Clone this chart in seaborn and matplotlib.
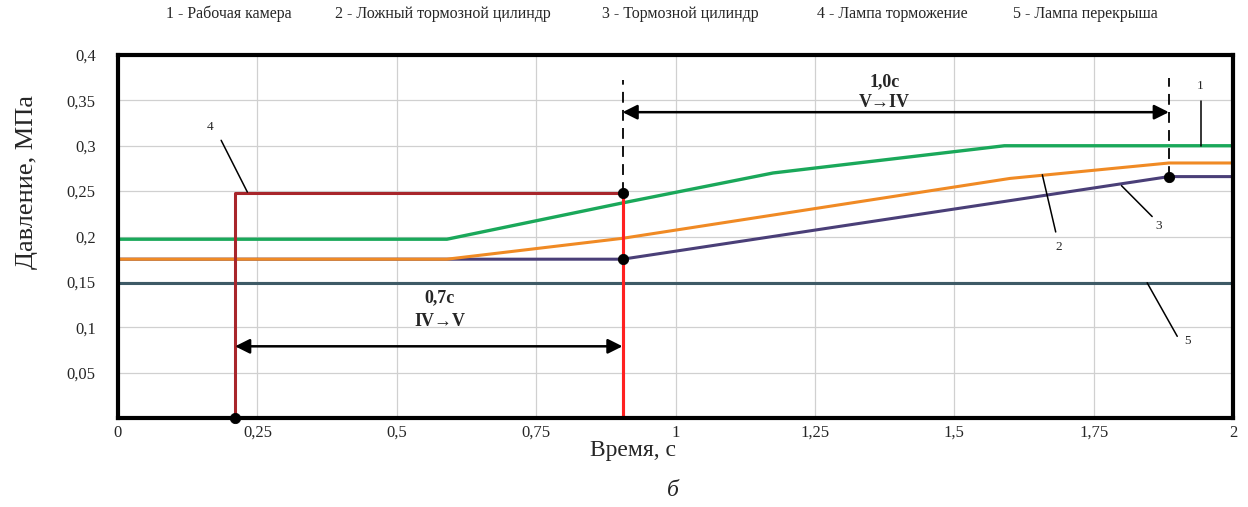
import numpy as np
import pandas as pd
import matplotlib
matplotlib.use("Agg")
import matplotlib.pyplot as plt
import seaborn as sns

# ---- data ----
t_work = [0.0, 0.59, 0.905, 1.175, 1.59, 2.0]
p_work = [0.197, 0.197, 0.237, 0.270, 0.300, 0.300]

t_false = [0.0, 0.59, 0.905, 1.6, 1.885, 2.0]
p_false = [0.175, 0.175, 0.198, 0.264, 0.281, 0.281]

t_brake = [0.0, 0.905, 1.885, 2.0]
p_brake = [0.175, 0.175, 0.266, 0.266]

t_lamp_brake = [0.21, 0.21, 0.905, 0.905]
p_lamp_brake = [0.0, 0.248, 0.248, 0.0]

t_lamp_lap = [0.0, 2.0]
p_lamp_lap = [0.149, 0.149]

dot_t = [0.21, 0.905, 0.905, 1.885]
dot_p = [0.0, 0.248, 0.175, 0.266]

x_ticks = [0, 0.25, 0.5, 0.75, 1, 1.25, 1.5, 1.75, 2]
x_ticklabels = ["0", "0,25", "0,5", "0,75", "1", "1,25", "1,5", "1,75", "2"]
y_ticks = [0, 0.05, 0.1, 0.15, 0.2, 0.25, 0.3, 0.35, 0.4]
y_ticklabels = ["", "0,05", "0,1", "0,15", "0,2", "0,25", "0,3", "0,35", "0,4"]

legend_items = ["1 - Рабочая камера", "2 - Ложный тормозной цилиндр",
                "3 - Тормозной цилиндр", "4 - Лампа торможение", "5 - Лампа перекрыша"]
legend_x_px = [166, 335, 602, 817, 1013]

# ---- style ----
sns.set_style("white")
plt.rcParams['font.family'] = ['Liberation Serif', 'DejaVu Serif']

W, H = 1248, 507
fig = plt.figure(figsize=(W / 100, H / 100), dpi=100)
L, R, T, B = 118, 1233, 55, 418
ax = fig.add_axes([L / W, 1 - B / H, (R - L) / W, (B - T) / H])

c_green = "#1aa85a"
c_orange = "#f08a24"
c_purple = "#4a3f78"
c_lap = "#3e5a66"
c_red_dark = "#a8262b"
c_red = "#ff2020"

kw = dict(ax=ax, sort=False, estimator=None, legend=False)
sns.lineplot(x=t_lamp_lap, y=p_lamp_lap, color=c_lap, lw=2.2, **kw)
sns.lineplot(x=t_brake, y=p_brake, color=c_purple, lw=2.2, **kw)
sns.lineplot(x=t_false, y=p_false, color=c_orange, lw=2.2, **kw)
sns.lineplot(x=t_work, y=p_work, color=c_green, lw=2.4, **kw)
sns.lineplot(x=t_lamp_brake, y=p_lamp_brake, color=c_red_dark, lw=2.2, **kw)
sns.lineplot(x=t_lamp_brake[2:], y=p_lamp_brake[2:], color=c_red, lw=2.2, **kw)

# dashed verticals
ax.plot([dot_t[1], dot_t[1]], [dot_p[1], 0.373], color="black", lw=1.3, ls=(0, (6, 4)))
ax.plot([dot_t[3], dot_t[3]], [dot_p[3], 0.375], color="black", lw=1.3, ls=(0, (6, 4)))

sns.scatterplot(x=dot_t, y=dot_p, color="black", s=55, ax=ax, zorder=5, legend=False,
                edgecolor="black", clip_on=False)

# dimension arrows
arr = dict(arrowstyle="<|-|>", color="black", lw=1.8, mutation_scale=22,
           shrinkA=0, shrinkB=0)
ax.annotate("", xy=(dot_t[0], 0.079), xytext=(dot_t[1], 0.079), arrowprops=arr)
ax.annotate("", xy=(dot_t[1], 0.337), xytext=(dot_t[3], 0.337), arrowprops=arr)

mid1 = (dot_t[0] + dot_t[1]) / 2 + 0.02
mid2 = (dot_t[1] + dot_t[3]) / 2 - 0.02
ax.text(mid1, 0.132, "0,7c", ha="center", va="center", fontsize=13, fontweight="bold")
ax.text(mid1, 0.106, "IV→V", ha="center", va="center", fontsize=13, fontweight="bold",
        family=['Liberation Serif', 'DejaVu Sans'])
ax.text(mid2, 0.370, "1,0c", ha="center", va="center", fontsize=13, fontweight="bold")
ax.text(mid2, 0.348, "V→IV", ha="center", va="center", fontsize=13, fontweight="bold",
        family=['Liberation Serif', 'DejaVu Sans'])

# number labels with leaders
lead = dict(color="black", lw=1.1)
labels = [("1", 1.941, 0.366, (1.942, 0.349), (1.942, 0.300)),
          ("2", 1.688, 0.188, (1.658, 0.268), (1.682, 0.205)),
          ("3", 1.867, 0.212, (1.800, 0.256), (1.855, 0.222)),
          ("4", 0.165, 0.321, (0.185, 0.306), (0.232, 0.249)),
          ("5", 1.918, 0.085, (1.846, 0.149), (1.900, 0.090))]
for s, tx, ty, a, b in labels:
    ax.text(tx, ty, s, ha="center", va="center", fontsize=9.5)
    ax.plot([a[0], b[0]], [a[1], b[1]], **lead)

# axes
ax.set_xlim(0, 2)
ax.set_ylim(0, 0.4)
ax.set_xticks(x_ticks)
ax.set_xticklabels(x_ticklabels, fontsize=12)
ax.set_yticks(y_ticks)
ax.set_yticklabels(y_ticklabels, fontsize=12)
ax.tick_params(axis="y", length=0, pad=16)
ax.tick_params(axis="x", length=0, pad=5)
ax.grid(True, color="#d0d0d0", lw=0.9)
ax.set_axisbelow(True)
for sp in ax.spines.values():
    sp.set_visible(True)
    sp.set_color("black")
    sp.set_linewidth(3)

ax.set_ylabel("Давление, МПа", fontsize=19)
ax.yaxis.set_label_coords(-0.082, 0.65)
ax.set_xlabel("Время, с", fontsize=17)
ax.xaxis.set_label_coords(0.462, -0.09)
ax.xaxis.label.set_va("center")
ax.yaxis.label.set_va("center")

for s, xp in zip(legend_items, legend_x_px):
    fig.text(xp / W, 1 - 14 / H, s, ha="left", va="center", fontsize=11.5)

fig.text(673 / W, 1 - 490 / H, "б", ha="center", va="center", fontsize=17, style="italic")

fig.savefig("out.png", dpi=100)
